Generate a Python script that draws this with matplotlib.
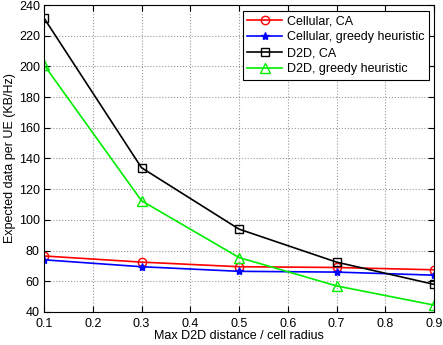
import matplotlib
matplotlib.use('Agg')
import matplotlib.pyplot as plt

plt.rcParams['font.family'] = ['Liberation Sans', 'DejaVu Sans']
plt.rcParams['font.size'] = 9

x = [0.1, 0.3, 0.5, 0.7, 0.9]
cell_ca = [76.5, 72.5, 69.5, 69, 67.5]
cell_greedy = [74, 69.5, 66.5, 66, 64]
d2d_ca = [231.5, 134, 94, 72.5, 58]
d2d_greedy = [201, 112.5, 75.5, 57, 44.5]

fig = plt.figure(figsize=(4.43, 3.45), dpi=100)
ax = fig.add_axes([44/443, 1-312/345, 390/443, 307/345])

ax.plot(x, cell_ca, color='red', marker='o', mfc='none', ms=6, lw=1.2, label='Cellular, CA')
ax.plot(x, cell_greedy, color='blue', marker='*', ms=6, lw=1.2, label='Cellular, greedy heuristic')
ax.plot(x, d2d_ca, color='black', marker='s', mfc='none', ms=6, lw=1.2, label='D2D, CA')
ax.plot(x, d2d_greedy, color='#00ee00', marker='^', mfc='none', ms=7, lw=1.2, label='D2D, greedy heuristic')

ax.set_xlim(0.1, 0.9)
ax.set_ylim(40, 240)
ax.set_xticks([0.1, 0.2, 0.3, 0.4, 0.5, 0.6, 0.7, 0.8, 0.9])
ax.set_xticklabels(['0.1', '0.2', '0.3', '0.4', '0.5', '0.6', '0.7', '0.8', '0.9'])
ax.set_yticks(range(40, 241, 20))
ax.grid(True, linestyle=':', color='#999999', lw=0.8)
ax.tick_params(direction='in', top=True, right=True, length=4)
ax.tick_params(axis='x', pad=4)
ax.tick_params(axis='y', pad=3)
ax.set_xlabel('Max D2D distance / cell radius', labelpad=0)
ax.set_ylabel('Expected data per UE (KB/Hz)', labelpad=2)

leg = ax.legend(loc='upper right', bbox_to_anchor=(0.987, 0.981), borderaxespad=0,
                fancybox=False, edgecolor='black', framealpha=1, borderpad=0.35,
                labelspacing=0.32, handlelength=2.8, handletextpad=0.4)
leg.get_frame().set_linewidth(0.8)

fig.savefig('out.png', dpi=100)
